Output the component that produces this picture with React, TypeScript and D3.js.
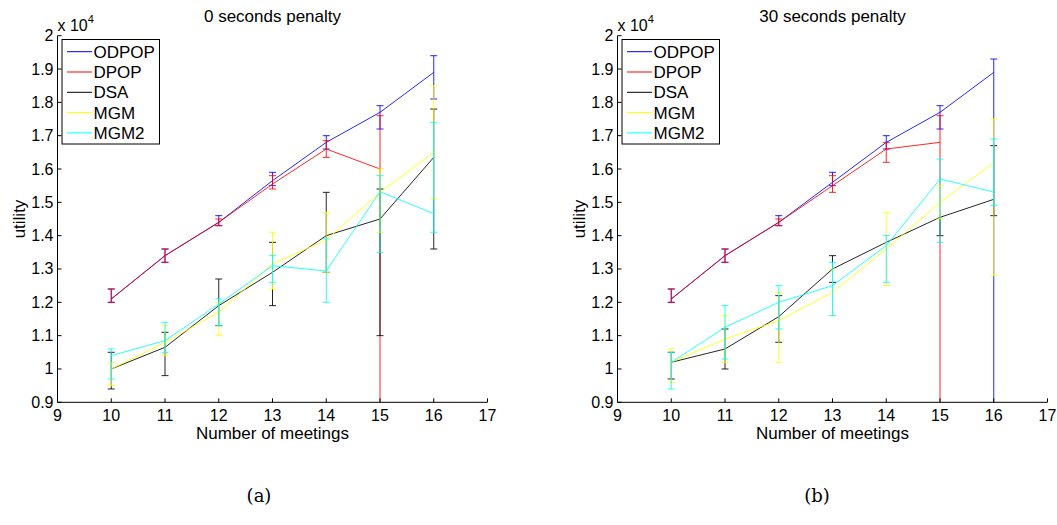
import React from "react";
import * as d3 from "d3";

// Problem sizes on the x axis
const meetings = [10, 11, 12, 13, 14, 15, 16];

const seriesNames = ["ODPOP", "DPOP", "DSA", "MGM", "MGM2"];
const seriesColors = ["#0000ff", "#ff0000", "#000000", "#ffff00", "#00ffff"];

const xTicks = [9, 10, 11, 12, 13, 14, 15, 16, 17];
const yTicks = [0.9, 1.0, 1.1, 1.2, 1.3, 1.4, 1.5, 1.6, 1.7, 1.8, 1.9, 2.0];
const yTickLabels = ["0.9", "1", "1.1", "1.2", "1.3", "1.4", "1.5", "1.6", "1.7", "1.8", "1.9", "2"];

// Utility (x 10^4) with 0 seconds penalty: mean, lower and upper error bounds
const odpop0 = [1.21, 1.34, 1.44, 1.565, 1.68, 1.77, 1.89];
const odpop0Lo = [1.2, 1.32, 1.43, 1.55, 1.66, 1.72, 1.81];
const odpop0Hi = [1.24, 1.36, 1.46, 1.59, 1.7, 1.79, 1.94];

const dpop0 = [1.21, 1.34, 1.44, 1.555, 1.66, 1.6];
const dpop0Lo = [1.2, 1.32, 1.43, 1.54, 1.635, 0.85];
const dpop0Hi = [1.24, 1.36, 1.45, 1.58, 1.685, 1.76];

const dsa0 = [1.0, 1.065, 1.19, 1.29, 1.4, 1.45, 1.635];
const dsa0Lo = [0.94, 0.98, 1.13, 1.19, 1.29, 1.1, 1.36];
const dsa0Hi = [1.05, 1.11, 1.27, 1.38, 1.53, 1.54, 1.78];

const mgm0 = [1.0, 1.08, 1.17, 1.315, 1.387, 1.53, 1.65];
const mgm0Lo = [0.95, 1.04, 1.1, 1.24, 1.29, 1.41, 1.51];
const mgm0Hi = [1.02, 1.13, 1.2, 1.41, 1.47, 1.6, 1.85];

const mgm20 = [1.04, 1.085, 1.195, 1.31, 1.294, 1.532, 1.466];
const mgm20Lo = [0.97, 1.05, 1.13, 1.26, 1.2, 1.35, 1.41];
const mgm20Hi = [1.06, 1.14, 1.21, 1.34, 1.39, 1.58, 1.74];

// Utility (x 10^4) with 30 seconds penalty
const odpop30 = [1.21, 1.34, 1.44, 1.56, 1.68, 1.77, 1.89];
const odpop30Lo = [1.2, 1.32, 1.43, 1.55, 1.66, 1.72, 0.85];
const odpop30Hi = [1.24, 1.36, 1.46, 1.59, 1.7, 1.79, 1.93];

const dpop30 = [1.21, 1.34, 1.44, 1.55, 1.66, 1.68];
const dpop30Lo = [1.2, 1.32, 1.43, 1.53, 1.62, 0.85];
const dpop30Hi = [1.24, 1.36, 1.45, 1.58, 1.68, 1.76];

const dsa30 = [1.02, 1.06, 1.157, 1.3, 1.38, 1.455, 1.509];
const dsa30Lo = [0.97, 1.0, 1.08, 1.26, 1.38, 1.4, 1.46];
const dsa30Hi = [1.05, 1.12, 1.22, 1.34, 1.38, 1.455, 1.67];

const mgm30 = [1.02, 1.09, 1.145, 1.23, 1.36, 1.5, 1.619];
const mgm30Lo = [0.96, 1.02, 1.02, 1.16, 1.25, 1.45, 1.28];
const mgm30Hi = [1.06, 1.16, 1.23, 1.3, 1.47, 1.55, 1.75];

const mgm230 = [1.02, 1.125, 1.2, 1.25, 1.37, 1.57, 1.531];
const mgm230Lo = [0.94, 1.03, 1.12, 1.16, 1.26, 1.38, 1.49];
const mgm230Hi = [1.05, 1.19, 1.25, 1.32, 1.4, 1.63, 1.69];

type Series = { mean: number[]; lo: number[]; hi: number[] };

const panelA: Series[] = [
  { mean: odpop0, lo: odpop0Lo, hi: odpop0Hi },
  { mean: dpop0, lo: dpop0Lo, hi: dpop0Hi },
  { mean: dsa0, lo: dsa0Lo, hi: dsa0Hi },
  { mean: mgm0, lo: mgm0Lo, hi: mgm0Hi },
  { mean: mgm20, lo: mgm20Lo, hi: mgm20Hi },
];

const panelB: Series[] = [
  { mean: odpop30, lo: odpop30Lo, hi: odpop30Hi },
  { mean: dpop30, lo: dpop30Lo, hi: dpop30Hi },
  { mean: dsa30, lo: dsa30Lo, hi: dsa30Hi },
  { mean: mgm30, lo: mgm30Lo, hi: mgm30Hi },
  { mean: mgm230, lo: mgm230Lo, hi: mgm230Hi },
];

const SANS = "'Liberation Sans', Arial, Helvetica, sans-serif";
const SERIF = "'DejaVu Serif', 'Liberation Serif', serif";

const TOP = 35.7;
const BOTTOM = 402.3;
const CAP = 3.5;

function Panel({
  id,
  left,
  right,
  title,
  caption,
  captionX,
  series,
}: {
  id: string;
  left: number;
  right: number;
  title: string;
  caption: string;
  captionX: number;
  series: Series[];
}) {
  const x = d3.scaleLinear().domain([9, 17]).range([left, right]);
  const y = d3.scaleLinear().domain([0.9, 2.0]).range([BOTTOM, TOP]);
  const line = d3
    .line<[number, number]>()
    .x((d) => x(d[0]))
    .y((d) => y(d[1]));
  const cx = (left + right) / 2;
  const cy = (TOP + BOTTOM) / 2;

  return (
    <g>
      <defs>
        <clipPath id={id}>
          <rect x={left} y={TOP} width={right - left} height={BOTTOM - TOP} />
        </clipPath>
      </defs>

      {/* data */}
      <g clipPath={`url(#${id})`}>
        {series.map((s, si) => {
          const pts = s.mean.map((m, i) => [meetings[i], m] as [number, number]);
          const color = seriesColors[si];
          return (
            <g key={si} stroke={color} strokeOpacity={0.85} fill="none" strokeWidth={1}>
              <path d={line(pts) || ""} />
              {s.mean.map((m, i) => {
                const px = x(meetings[i]);
                const lo = s.lo[i];
                const hi = s.hi[i];
                if (hi - lo <= 0) return null;
                return (
                  <g key={i}>
                    <line x1={px} x2={px} y1={y(lo)} y2={y(hi)} />
                    {lo < m && <line x1={px - CAP} x2={px + CAP} y1={y(lo)} y2={y(lo)} />}
                    {hi > m && <line x1={px - CAP} x2={px + CAP} y1={y(hi)} y2={y(hi)} />}
                  </g>
                );
              })}
            </g>
          );
        })}
      </g>

      {/* axes */}
      <g stroke="#000" strokeWidth={1} fill="none">
        <line x1={left} x2={left} y1={TOP} y2={BOTTOM} />
        <line x1={left} x2={right} y1={BOTTOM} y2={BOTTOM} />
        {xTicks.map((t) => (
          <line key={t} x1={x(t)} x2={x(t)} y1={BOTTOM} y2={BOTTOM - 4} />
        ))}
        {yTicks.map((t) => (
          <line key={t} x1={left} x2={left + 4} y1={y(t)} y2={y(t)} />
        ))}
      </g>
      <g fontFamily={SANS} fontSize={16} fill="#000">
        {xTicks.map((t) => (
          <text key={t} x={x(t)} y={BOTTOM + 19} textAnchor="middle">
            {t}
          </text>
        ))}
        {yTicks.map((t, i) => (
          <text key={t} x={left - 4} y={y(t) + 5.5} textAnchor="end">
            {yTickLabels[i]}
          </text>
        ))}
        <text x={left} y={31}>
          x 10
          <tspan fontSize={11} dy={-8}>
            4
          </tspan>
        </text>
      </g>
      <text x={cx} y={22} textAnchor="middle" fontFamily={SANS} fontSize={17}>
        {title}
      </text>
      <text x={cx} y={439} textAnchor="middle" fontFamily={SANS} fontSize={17}>
        Number of meetings
      </text>
      <text
        transform={`translate(${left - 33},${cy}) rotate(-90)`}
        textAnchor="middle"
        fontFamily={SANS}
        fontSize={17}
      >
        utility
      </text>

      {/* legend */}
      <g>
        <rect
          x={left + 4.5}
          y={39.5}
          width={97.5}
          height={104.5}
          fill="#fff"
          stroke="#000"
          strokeWidth={1}
        />
        {seriesNames.map((n, i) => {
          const ly = 51.7 + i * 20.3;
          return (
            <g key={n}>
              <line
                x1={left + 9.5}
                x2={left + 34.5}
                y1={ly}
                y2={ly}
                stroke={seriesColors[i]}
                strokeWidth={1}
              />
              <text x={left + 36} y={ly + 6} fontFamily={SANS} fontSize={17}>
                {n}
              </text>
            </g>
          );
        })}
      </g>

      <text x={captionX} y={502} textAnchor="middle" fontFamily={SERIF} fontSize={18}>
        {caption}
      </text>
    </g>
  );
}

export default function App() {
  return (
    <svg
      width={1057}
      height={525}
      style={{ position: "absolute", left: 0, top: 0, background: "#fff" }}
    >
      <rect x={0} y={0} width={1057} height={525} fill="#fff" />
      <Panel
        id="clipA"
        left={57.5}
        right={487.5}
        title="0 seconds penalty"
        caption="(a)"
        captionX={259}
        series={panelA}
      />
      <Panel
        id="clipB"
        left={617.5}
        right={1047.5}
        title="30 seconds penalty"
        caption="(b)"
        captionX={817}
        series={panelB}
      />
    </svg>
  );
}
